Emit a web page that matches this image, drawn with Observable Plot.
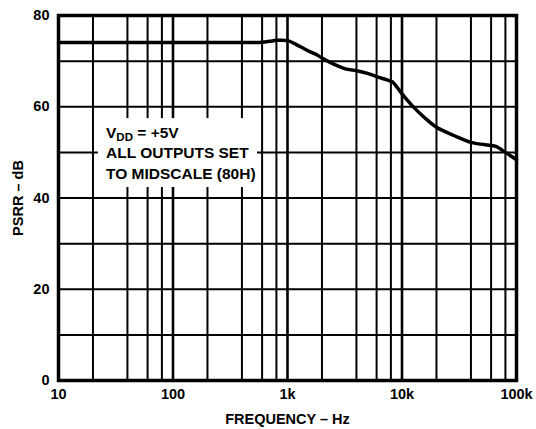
<!DOCTYPE html>
<html><head><meta charset="utf-8">
<script src="https://cdn.jsdelivr.net/npm/d3@7"></script>
<script src="https://cdn.jsdelivr.net/npm/@observablehq/plot@0.6"></script>
<style>
html,body{margin:0;padding:0;background:#fff;}
</style></head><body><div id="chart"></div>
<script>
const freqHz = [10, 100, 300, 500, 600, 700, 800, 1000, 1140, 1500, 1830, 2000, 2550, 3200, 4000, 5000, 6000, 7800, 8300, 10000, 12200, 15600, 20000, 28400, 40000, 60000, 66000, 80000, 100000];
const psrrDb = [74.1, 74.1, 74.1, 74.1, 74.15, 74.35, 74.55, 74.5, 73.9, 72.3, 71.3, 70.7, 69.3, 68.3, 67.9, 67.3, 66.6, 65.7, 65.4, 62.8, 60.3, 57.7, 55.5, 53.7, 52.2, 51.5, 51.3, 50.0, 48.4];

const xTickValues = [10, 100, 1000, 10000, 100000];
const xTickLabels = ["10", "100", "1k", "10k", "100k"];
const yTickValues = [0, 20, 40, 60, 80];
const xGridHz = [20, 40, 60, 80, 200, 400, 600, 800, 2000, 4000, 6000, 8000, 20000, 40000, 60000, 80000];
const xDecadeHz = [100, 1000, 10000];
const yGridDb = [10, 20, 30, 40, 50, 60, 70];

const xLabel = "FREQUENCY – Hz";
const yLabel = "PSRR – dB";
const noteLines = ["VDD = +5V", "ALL OUTPUTS SET", "TO MIDSCALE (80H)"];
const noteDb = [54.2, 49.9, 45.3];
const noteHz = 26;
const noteBoxHz = [22.3, 547];
const noteBoxDb = [42.3, 57.4];

const labelMap = new Map(xTickValues.map((v, i) => [v, xTickLabels[i]]));
const curve = freqHz.map((f, i) => ({f, db: psrrDb[i]}));
const notes = noteLines.map((t, i) => ({t, db: noteDb[i]}));

const chart = Plot.plot({
  width: 536, height: 429,
  marginLeft: 58, marginRight: 20, marginTop: 15, marginBottom: 49,
  style: {fontFamily: "'Liberation Sans', Arial, sans-serif", fontSize: "14.5px", fontWeight: "bold", color: "#000", background: "#fff"},
  x: {type: "log", domain: [10, 100000]},
  y: {domain: [0, 80]},
  marks: [
    Plot.ruleX(xGridHz, {stroke: "#000", strokeWidth: 2}),
    Plot.ruleX(xDecadeHz, {stroke: "#000", strokeWidth: 2.6}),
    Plot.ruleY(yGridDb, {stroke: "#000", strokeWidth: 2}),
    Plot.rect([0], {x1: () => noteBoxHz[0], x2: () => noteBoxHz[1], y1: () => noteBoxDb[0], y2: () => noteBoxDb[1], fill: "#fff"}),
    Plot.text(notes, {x: () => noteHz, y: "db", text: "t", textAnchor: "start", fontSize: 15.5, fontWeight: "bold", fill: "#000"}),
    Plot.line(curve, {x: "f", y: "db", curve: "catmull-rom", stroke: "#000", strokeWidth: 3.5}),
    Plot.frame({stroke: "#000", strokeWidth: 3.5}),
    Plot.axisX(xTickValues, {tickSize: 0, tickPadding: 8, tickFormat: d => labelMap.get(d), label: xLabel, labelArrow: "none", labelAnchor: "center", labelOffset: 43, fontSize: 14.5}),
    Plot.axisY(yTickValues, {tickSize: 0, tickPadding: 9, label: yLabel, labelArrow: "none", labelAnchor: "center", labelOffset: 46, fontSize: 14.5})
  ]
});
document.getElementById("chart").appendChild(chart);

d3.select(chart).selectAll("text").filter(function() { return this.textContent === "VDD = +5V"; })
  .each(function() {
    const el = d3.select(this);
    el.text("");
    el.append("tspan").text("V");
    el.append("tspan").attr("font-size", 11.5).attr("dy", 3).text("DD");
    el.append("tspan").attr("dy", -3).text(" = +5V");
  });
</script>
</body></html>
